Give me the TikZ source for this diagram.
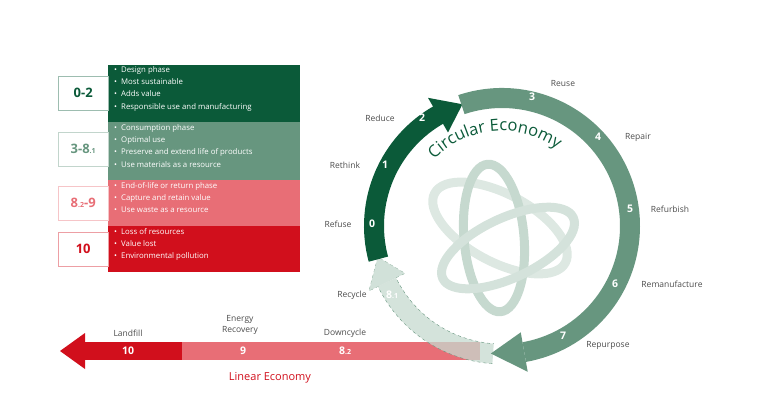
\documentclass[tikz,border=0pt]{standalone}
\usepackage{fontspec}
\setmainfont{Open Sans}
\setsansfont{Open Sans}
\usetikzlibrary{decorations.text}

\definecolor{darkgreen}{HTML}{0B5A39}
\definecolor{midgreen}{HTML}{67967F}
\definecolor{palegreen}{HTML}{C6D9CF}
\definecolor{lightred}{HTML}{E86E76}
\definecolor{darkred}{HTML}{D10F1C}

% band of the ring between two angles
\newcommand{\ringband}[3]{%
  \fill[#1] (#2:138) arc[start angle=#2, end angle=#3, radius=138]
    -- (#3:118) arc[start angle=#3, end angle=#2, radius=118] -- cycle;}
\newcommand{\ringhead}[3]{%
  \fill[#1] (#2:108) -- (#2:148) -- (#3:128) -- cycle;}

\begin{document}
\begin{tikzpicture}[x=1pt,y=1pt,font=\sffamily]
  \tikzset{
    lbl/.style={font=\sffamily\fontsize{8.5}{10}\selectfont, text=black!70},
    num/.style={font=\sffamily\bfseries\fontsize{10.5}{12}\selectfont, text=white},
    bullets/.style={font=\sffamily\fontsize{7.8}{12.4}\selectfont, text=white, align=left, anchor=north west, inner sep=2},
    keybox/.style={draw=#1!40, fill=white, minimum width=50, minimum height=34, font=\sffamily\bfseries\fontsize{13}{14}\selectfont, text=#1, anchor=west}
  }
  \useasboundingbox (0,0) rectangle (768,416);

  % legend
  \fill[darkgreen] (108,294) rectangle (300,351);
  \fill[midgreen]  (108,236) rectangle (300,294);
  \fill[lightred]  (108,190) rectangle (300,236);
  \fill[darkred]   (108,144) rectangle (300,190);
  \node[keybox=darkgreen] (k02)  at (58,323) {0-2};
  \node[keybox=midgreen]  (k38)  at (58,267) {3-8{\fontsize{7}{8}\selectfont.1}};
  \node[keybox=lightred]  (k89)  at (58,213) {8{\fontsize{7}{8}\selectfont.2}-9};
  \node[keybox=darkred]   (k10)  at (58,167) {10};
  \node[bullets] (b1) at (112,352) {\textbullet\ \ Design phase\\\textbullet\ \ Most sustainable\\\textbullet\ \ Adds value\\\textbullet\ \ Responsible use and manufacturing};
  \node[bullets] (b2) at (112,294) {\textbullet\ \ Consumption phase\\\textbullet\ \ Optimal use\\\textbullet\ \ Preserve and extend life of products\\\textbullet\ \ Use materials as a resource};
  \node[bullets] (b3) at (112,236) {\textbullet\ \ End-of-life or return phase\\\textbullet\ \ Capture and retain value\\\textbullet\ \ Use waste as a resource};
  \node[bullets] (b4) at (112,190) {\textbullet\ \ Loss of resources\\\textbullet\ \ Value lost\\\textbullet\ \ Environmental pollution};

  % linear economy bar
  \fill[lightred] (180,56) rectangle (480,74);
  \fill[darkred] (85,56) rectangle (182,74);
  \fill[darkred] (85,47) -- (85,83) -- (60,65) -- cycle;
  \node[lbl] (landfill) at (128,83) {Landfill};
  \node[num] (n10) at (128,65) {10};
  \node[lbl, align=center, font=\sffamily\fontsize{8.5}{11}\selectfont] (energy) at (240,91) {Energy\\Recovery};
  \node[num] (n9) at (243,65) {9};
  \node[lbl] (downcycle) at (345,83) {Downcycle};
  \node[num] (n82) at (345,65) {8{\fontsize{7}{8}\selectfont.2}};
  \node[text=darkred, font=\sffamily\fontsize{11}{12}\selectfont] (linear) at (270,38) {Linear Economy};

  \begin{scope}[shift={(502,190)}]
    % logo
    \draw[palegreen!60, line width=9] (-2,-2) ellipse[x radius=74, y radius=34, rotate=-28];
    \draw[palegreen, line width=9] (-8,-12) ellipse[x radius=74, y radius=30, rotate=95];
    \draw[palegreen!75, line width=9] (6,-22) ellipse[x radius=72, y radius=30, rotate=25];
    % ring
    \begin{scope}[opacity=0.75]
      \ringband{palegreen}{266}{206}
    \end{scope}
    \draw[midgreen, dashed, thin] (266:138) arc[start angle=266, end angle=206, radius=138]
      -- (206:148) -- (194:128) -- (206:108) -- (206:118) arc[start angle=206, end angle=266, radius=118];
    \fill[palegreen, opacity=0.8] (206:108) -- (206:148) -- (194:128) -- cycle;
    \ringband{darkgreen}{195}{119}
    \ringhead{darkgreen}{120}{108}
    \ringband{midgreen}{108.5}{-80}
    \ringhead{midgreen}{-80}{-95}
    \path[decorate, decoration={text along path, text align=center,
      text={|\fontsize{16.5}{17}\selectfont\color{darkgreen}|Circular Economy}}]
      (165:95) arc[start angle=165, end angle=25, radius=95];
  \end{scope}

  % ring labels
  \node[num] (n0) at (372,192) {0};
  \node[num] (n1) at (385,251) {1};
  \node[num] (n2) at (422,298) {2};
  \node[num] (n3) at (532,319) {3};
  \node[num] (n4) at (598,279) {4};
  \node[num] (n5) at (630,207) {5};
  \node[num] (n6) at (615,132) {6};
  \node[num] (n7) at (563,80) {7};
  \node[num] (n81) at (392,121) {8{\fontsize{7}{8}\selectfont.1}};
  \node[lbl] (refuse)  at (338,192) {Refuse};
  \node[lbl] (rethink) at (345,251) {Rethink};
  \node[lbl] (reduce)  at (380,298) {Reduce};
  \node[lbl] (reuse)   at (563,332) {Reuse};
  \node[lbl] (repair)  at (638,279) {Repair};
  \node[lbl] (refurb)  at (670,207) {Refurbish};
  \node[lbl] (reman)   at (672,132) {Remanufacture};
  \node[lbl] (repurp)  at (608,71)  {Repurpose};
  \node[lbl] (recycle) at (352,121) {Recycle};
\end{tikzpicture}
\end{document}
